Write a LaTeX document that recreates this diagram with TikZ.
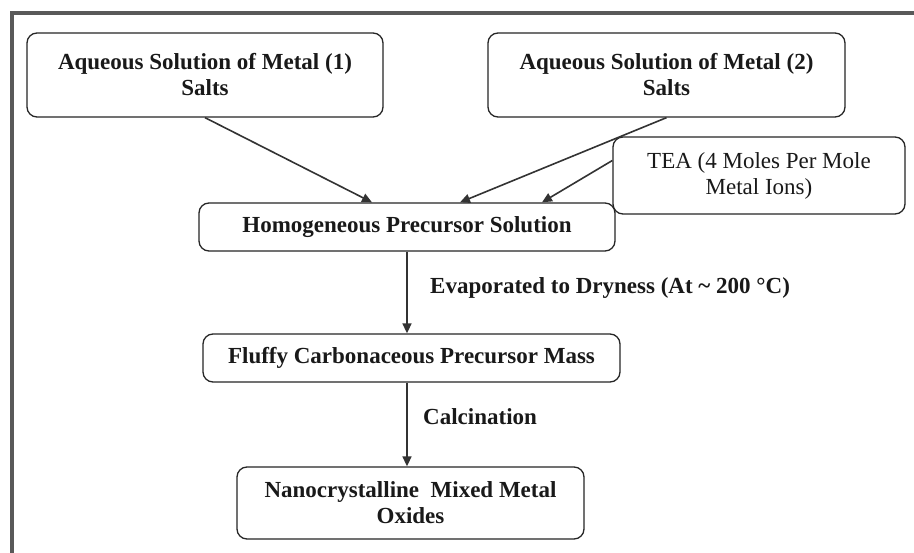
\documentclass[tikz,border=0pt]{standalone}
\usepackage{fontspec}
\setmainfont{Liberation Serif}
\usetikzlibrary{arrows.meta,calc}
\begin{document}
\begin{tikzpicture}[x=1pt,y=-1pt,
  box/.style={draw=black!85, line width=1.3pt, rounded corners=10pt, align=center,
    font=\fontsize{23}{26}\selectfont\bfseries, inner sep=0pt, text=black!90},
  regbox/.style={box, font=\fontsize{23}{26}\selectfont},
  conn/.style={draw=black!80, line width=1.6pt, -{Triangle[length=10pt,width=9pt]}},
  lbl/.style={font=\fontsize{23}{26}\selectfont\bfseries, anchor=west, inner sep=0pt, text=black!90}]
\useasboundingbox (0,0) rectangle (914,553);
\fill[white] (0,0) rectangle (914,553);
\draw[draw=black!65, line width=4pt] (12,553) -- (12,13.5) -- (914,13.5);

\node[box, minimum width=356pt, minimum height=84pt] (m1) at (205,75) {Aqueous Solution of Metal (1)\\Salts};
\node[box, minimum width=357pt, minimum height=84pt] (m2) at (666.5,75) {Aqueous Solution of Metal (2)\\Salts};
\node[regbox, minimum width=292pt, minimum height=77pt] (tea) at (759,175.5) {TEA (4 Moles Per Mole\\Metal Ions)};
\node[box, minimum width=416pt, minimum height=48pt] (hom) at (407,227) {Homogeneous Precursor Solution};
\node[box, minimum width=417pt, minimum height=48pt] (flu) at (411.5,358) {Fluffy Carbonaceous Precursor Mass};
\node[box, minimum width=347pt, minimum height=72pt] (nano) at (410.5,503) {Nanocrystalline\ \ Mixed Metal\\Oxides};

\draw[conn] (m1.south) -- ([xshift=-35pt]hom.north);
\draw[conn] (m2.south) -- ([xshift=53pt]hom.north);
\draw[conn] ([yshift=15pt]tea.west) -- ([xshift=135pt]hom.north);

\coordinate (c1) at (hom.south);
\draw[conn] (c1) -- (c1 |- flu.north);
\coordinate (c2) at (c1 |- flu.south);
\draw[conn] (c2) -- (c2 |- nano.north);

\node[lbl] (evap) at (430,288) {Evaporated to Dryness (At \textasciitilde\ 200 °C)};
\node[lbl] (calc) at (423,417) {Calcination};
\end{tikzpicture}
\end{document}
